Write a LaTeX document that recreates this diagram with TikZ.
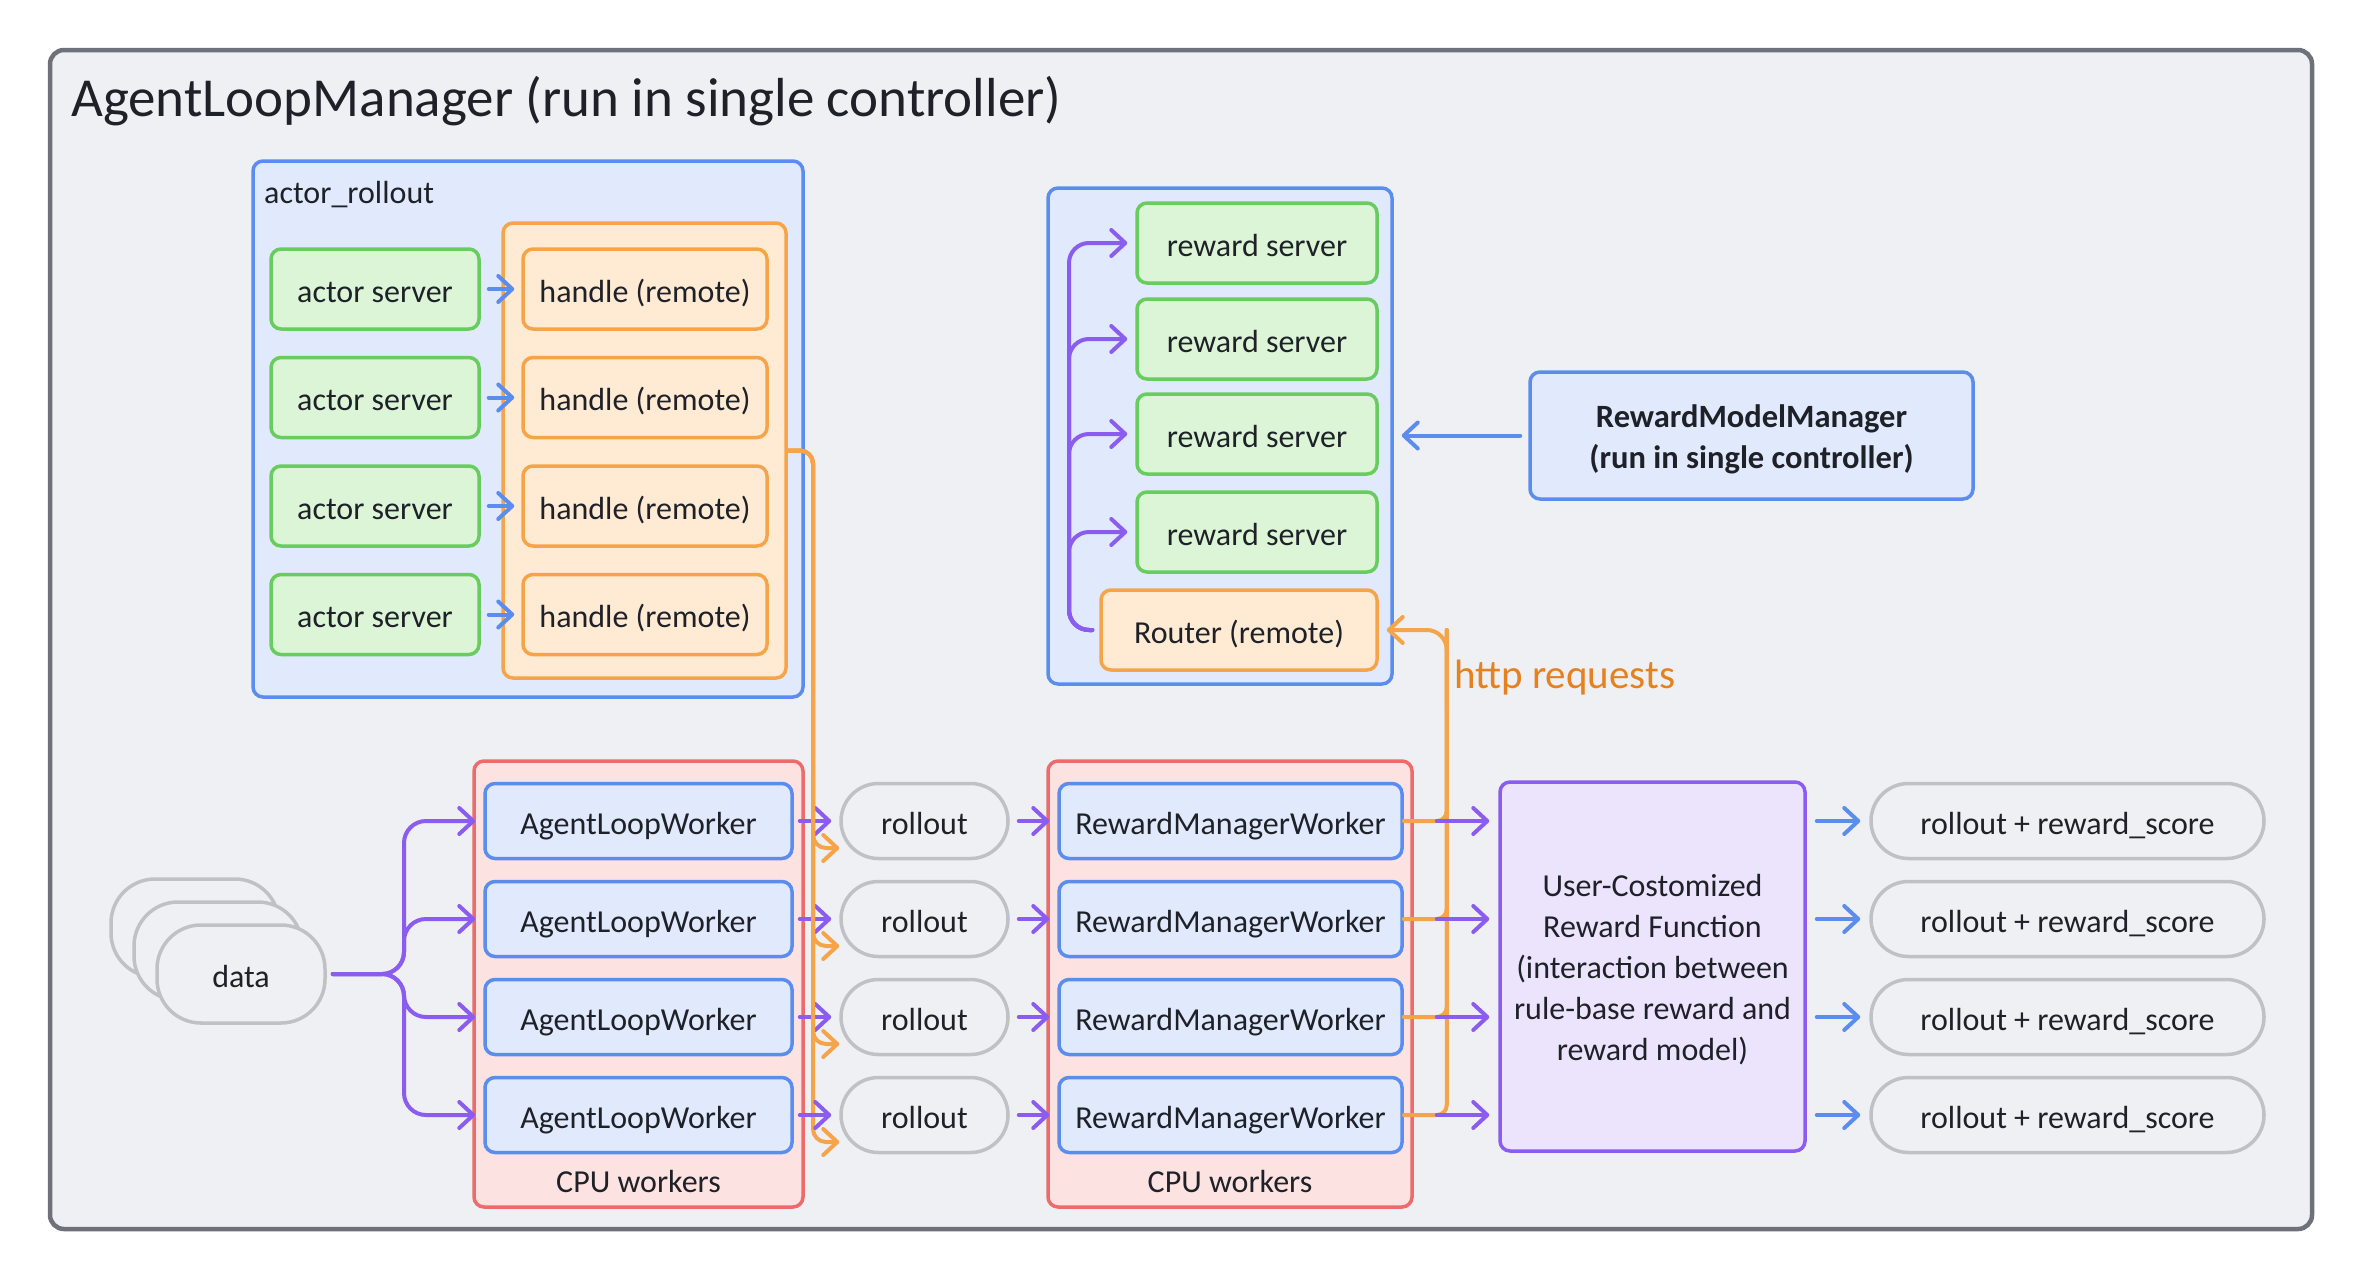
\documentclass[tikz,border=0pt]{standalone}
\usepackage{fontspec}
\setmainfont{Carlito}
\usetikzlibrary{arrows.meta,calc}
\definecolor{bgc}{HTML}{EFF0F3}
\definecolor{framec}{HTML}{6E7179}
\definecolor{blueb}{HTML}{5B8DEF}
\definecolor{bluef}{HTML}{E1E9FC}
\definecolor{greenb}{HTML}{68CC5E}
\definecolor{greenf}{HTML}{DBF5D6}
\definecolor{orangeb}{HTML}{F6A44A}
\definecolor{orangef}{HTML}{FFEAD3}
\definecolor{redb}{HTML}{EC6B6B}
\definecolor{redf}{HTML}{FDE2E2}
\definecolor{purpb}{HTML}{8B5CF0}
\definecolor{purpf}{HTML}{ECE3FC}
\definecolor{greyb}{HTML}{BFC1C5}
\definecolor{txt}{HTML}{1E2128}
\definecolor{httpc}{HTML}{E5811F}
\newcommand\multitext[2]{\raisebox{#1}[\height][\depth]{\begin{tabular}{@{}c@{}}#2\end{tabular}}}
\tikzset{
 bodyfont/.style={font=\fontsize{32}{41}\selectfont},
 bx/.style={draw, line width=3.5pt, rounded corners=10pt, minimum height=80pt, inner sep=0pt, bodyfont, align=center, text=txt},
 sl/.style={text height=30pt, text depth=4pt},
 gbox/.style={bx, sl, draw=greenb, fill=greenf},
 obox/.style={bx, sl, draw=orangeb, fill=orangef},
 bbox/.style={bx, draw=blueb, fill=bluef},
 pill/.style={bx, sl, draw=greyb, fill=bgc, rounded corners=37.5pt, minimum height=75pt},
 cont/.style={draw, line width=3.5pt, rounded corners=10pt, inner sep=0pt},
 lin/.style={line width=4pt, line cap=round, line join=round},
 arr/.style={lin, -{Straight Barb[length=14pt,width=26pt,round]}},
 barr/.style={arr, draw=blueb},
 parr/.style={arr, draw=purpb},
 oarr/.style={arr, draw=orangeb},
 oline/.style={lin, draw=orangeb},
}
\begin{document}
\begin{tikzpicture}[x=1pt,y=-1pt]
\fill[white] (0,0) rectangle (2362,1280);
\useasboundingbox (0,0) rectangle (2362,1280);
% frame
\node[draw=framec, fill=bgc, line width=4.5pt, rounded corners=14pt, minimum width=2262pt, minimum height=1179pt, inner sep=0pt] (frame) at (1181,639.5) {};
\node[anchor=west, font=\fontsize{55}{60}\selectfont, text=txt, inner sep=0pt] (title) at (71,101) {AgentLoopManager (run in single controller)};
% actor rollout
\node[cont, draw=blueb, fill=bluef, minimum width=550pt, minimum height=536pt] (ar) at (528,429) {};
\node[anchor=west, bodyfont, text=txt, inner sep=0pt] (arlabel) at (264,195) {actor\_rollout};
\node[cont, draw=orangeb, fill=orangef, minimum width=283pt, minimum height=455pt] (hc) at (644.5,450.5) {};
\foreach \i/\y in {1/289,2/397.5,3/506,4/614.5} {
  \node[gbox, minimum width=208pt] (as\i) at (375,\y) {actor server};
  \node[obox, minimum width=244pt] (h\i) at (645,\y) {handle (remote)};
  \draw[barr, shorten <=8pt, shorten >=7pt] (as\i.east) -- (h\i.west);
}
% reward container
\node[cont, draw=blueb, fill=bluef, minimum width=344pt, minimum height=496pt] (rc) at (1220,436) {};
\foreach \i/\y in {1/243,2/339,3/434,4/532} {
  \node[gbox, minimum width=240pt] (rs\i) at (1257,\y) {reward server};
}
\node[obox, minimum width=276pt] (router) at (1239,630) {Router (remote)};
\foreach \i in {1,2,3,4} {
  \draw[parr, rounded corners=20pt, shorten <=7pt] (router.west) -- (1069,630) |- ($(rs\i.west)+(-8,0)$);
}
% reward model manager
\node[bbox, minimum width=443pt, minimum height=127pt, font=\bfseries\fontsize{32.5}{41}\selectfont] (rmm) at (1751.5,435.5) {\multitext{-4pt}{RewardModelManager\\(run in single controller)}};
\draw[barr, shorten <=8pt, shorten >=8pt] (rmm.west) -- (rc.east |- rmm.west);
% CPU workers
\node[cont, draw=redb, fill=redf, minimum width=329pt, minimum height=446pt] (cpu1) at (638.5,984) {};
\node[bodyfont, text=txt, inner sep=0pt] (cpu1label) at (638.5,1181) {CPU workers};
\node[cont, draw=redb, fill=redf, minimum width=364pt, minimum height=446pt] (cpu2) at (1230,984) {};
\node[bodyfont, text=txt, inner sep=0pt] (cpu2label) at (1230,1181) {CPU workers};
% data stack
\node[bx, sl, draw=greyb, fill=bgc, rounded corners=44pt, minimum width=168pt, minimum height=98pt] (data3) at (195,928) {};
\node[bx, sl, draw=greyb, fill=bgc, rounded corners=44pt, minimum width=168pt, minimum height=98pt] (data2) at (218,951) {};
\node[bx, sl, draw=greyb, fill=bgc, rounded corners=44pt, minimum width=168pt, minimum height=98pt] (data) at (241,974) {data};
% user box
\node[bx, draw=purpb, fill=purpf, minimum width=305pt, minimum height=369pt] (user) at (1652.5,966.5) {\multitext{-4pt}{User-Costomized\\Reward Function\\(interaction between\\rule-base reward and\\reward model)}};
\foreach \i/\y in {1/821,2/919,3/1017,4/1115} {
  \node[bbox, sl, minimum width=307pt, minimum height=75pt] (alw\i) at (638.5,\y) {AgentLoopWorker};
  \node[pill, minimum width=167pt] (ro\i) at (924.5,\y) {rollout};
  \node[bbox, sl, minimum width=343pt, minimum height=75pt] (rmw\i) at (1230.5,\y) {RewardManagerWorker};
  \node[pill, minimum width=393pt] (out\i) at (2067.5,\y) {rollout + reward\_score};
}
\foreach \i in {1,2,3,4} {
  \draw[parr, rounded corners=22pt, shorten <=6pt] (data.east) -- (404,974) |- ($(alw\i.west)+(-8,0)$);
  \draw[oarr, rounded corners=13pt] (hc.east) -- (813,450.5) |- ($(ro\i.west)+(0,27)$);
  \draw[parr, shorten <=6pt, shorten >=8pt] (alw\i.east) -- (ro\i.west);
  \draw[parr, shorten <=9pt, shorten >=8pt] (ro\i.east) -- (rmw\i.west);
  \draw[oline, rounded corners=10pt] (rmw\i.east) -| ($(router.east)+(68,0)$);
}
\draw[oarr, rounded corners=20pt] ($(router.east)+(68,80)$) |- ($(router.east)+(8,0)$);
\foreach \i in {1,2,3,4} {
  \draw[parr, shorten <=33pt, shorten >=9pt] (rmw\i.east) -- (user.west |- rmw\i.east);
  \draw[barr, shorten <=10pt, shorten >=9pt] (user.east |- out\i.west) -- (out\i.west);
}
\node[anchor=west, font=\fontsize{41}{48}\selectfont, text=httpc, inner sep=0pt] (http) at (1454,678) {http requests};
\end{tikzpicture}
\end{document}
